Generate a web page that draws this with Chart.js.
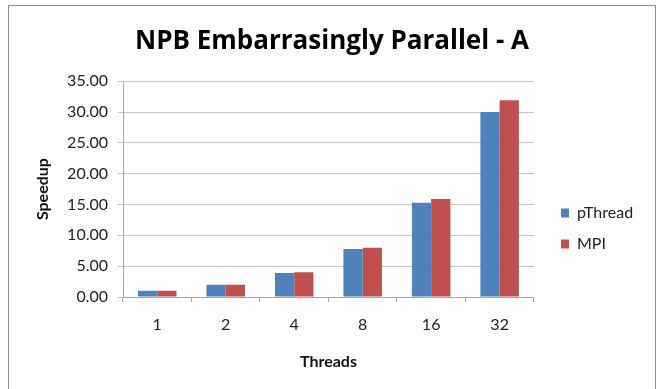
<!DOCTYPE html>
<html lang="en">
<head>
    <meta charset="UTF-8">
    <title>NPB Embarrasingly Parallel - A</title>
    <script src="https://cdn.jsdelivr.net/npm/chart.js"></script>
    <style>
        body { margin: 0; background: #fff; overflow: hidden; }
        #frame { position: absolute; left: 8px; top: 5px; width: 646px; height: 420px; border: 1px solid #8c8c8c; }
        #chart { position: absolute; left: 0; top: 0; }
    </style>
</head>
<body>
    <div id="frame"></div>
    <canvas id="chart" width="656" height="389"></canvas>

    <script>
        // data
        const threads = ["1", "2", "4", "8", "16", "32"];
        const pthreadSpeedup = [1.0, 2.0, 3.9, 7.8, 15.3, 30.0];
        const mpiSpeedup = [1.0, 2.0, 4.0, 8.0, 15.9, 31.9];

        const FONT = "Lato, 'Open Sans', sans-serif";
        const gridColor = "#c4c4c4";

        // put the legend where Excel puts it (right side, a bit below centre)
        const legendPlace = {
            id: "legendPlace",
            afterLayout(chart) {
                const lg = chart.legend;
                lg.left = 546;
                lg.right = 656;
                lg.width = 110;
                lg.top = 190;
                lg.bottom = 267;
            }
        };

        new Chart(document.getElementById("chart"), {
            type: "bar",
            data: {
                labels: threads,
                datasets: [
                    { label: "pThread", data: pthreadSpeedup, backgroundColor: "#4f81bd", borderWidth: 0 },
                    { label: "MPI", data: mpiSpeedup, backgroundColor: "#c0504d", borderWidth: 0 }
                ]
            },
            options: {
                responsive: false,
                animation: false,
                categoryPercentage: 0.5625,
                barPercentage: 1.0,
                layout: { padding: { left: 33, top: 5, right: 25, bottom: 0 } },
                plugins: {
                    title: {
                        display: true,
                        text: "NPB Embarrasingly Parallel - A",
                        color: "#000",
                        font: { family: "'Open Sans', Lato, sans-serif", size: 26, weight: "bold" },
                        padding: { top: 21, bottom: 24 }
                    },
                    legend: {
                        position: "right",
                        labels: {
                            color: "#222",
                            font: { family: FONT, size: 16 },
                            boxWidth: 8,
                            boxHeight: 9,
                            padding: 15
                        }
                    },
                    tooltip: { enabled: false }
                },
                scales: {
                    x: {
                        grid: { drawOnChartArea: false, tickLength: 5, color: "#a8a8a8" },
                        border: { color: "#a8a8a8" },
                        ticks: { color: "#222", font: { family: FONT, size: 16 }, padding: 13 },
                        title: {
                            display: true,
                            text: "Threads",
                            color: "#111",
                            font: { family: FONT, size: 16, weight: "bold" },
                            padding: { top: 0, bottom: 18 }
                        },
                        afterFit(scale) { scale.height = 92; }
                    },
                    y: {
                        min: 0,
                        max: 35,
                        ticks: {
                            stepSize: 5,
                            color: "#222",
                            font: { family: FONT, size: 16 },
                            padding: 10,
                            callback: (v) => v.toFixed(2)
                        },
                        grid: { color: gridColor, tickLength: 5 },
                        border: { color: "#a8a8a8" },
                        title: {
                            display: true,
                            text: "Speedup",
                            color: "#111",
                            font: { family: FONT, size: 16, weight: "bold" },
                            padding: { top: 0, bottom: 0 }
                        },
                        afterFit(scale) { scale.width = 90; }
                    }
                }
            },
            plugins: [legendPlace]
        });
    </script>
</body>
</html>
